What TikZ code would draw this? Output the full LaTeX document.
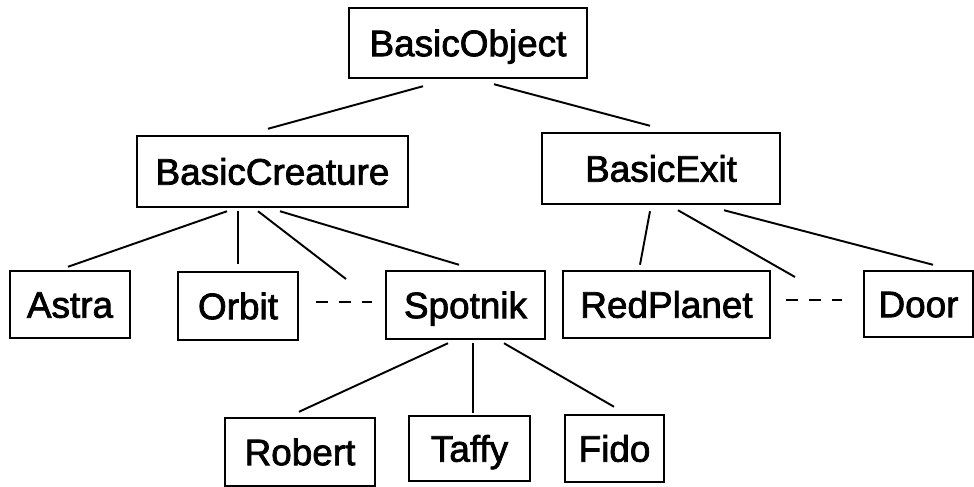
\documentclass[tikz,border=0pt]{standalone}
\usepackage{fontspec}
\setmainfont{Liberation Sans}
\newfontfamily\heavysans{Liberation Sans}[FakeBold=2]
\usetikzlibrary{calc}

\begin{document}
\begin{tikzpicture}[
    x=0.2mm, y=-0.2mm,
    every node/.style={font=\heavysans\fontsize{21}{25}\selectfont},
]

\tikzset{
    cls/.style 2 args={rectangle, draw=black, line width=1.4pt, inner sep=0pt,
                       text height=15pt, text depth=0pt,
                       minimum width=#1*0.2mm, minimum height=#2*0.2mm},
    link/.style={black, line width=1.1pt},
    more/.style={black, line width=1.1pt, dash pattern=on 6.8pt off 6.2pt},
}

% frame of the picture, in pixels of the reference
\useasboundingbox (0,0) rectangle (974,487);

% ---------------------------------------------------------------- classes
\node[cls={238}{70}] (obj)       at (468, 43)    {BasicObject};
\node[cls={271}{71}] (creature)  at (272.5,171.5) {BasicCreature};
\node[cls={238}{71}] (exit)      at (661, 168.5)  {BasicExit};

\node[cls={120}{67}] (astra)     at (70, 304.5)   {Astra};
\node[cls={120}{68}] (orbit)     at (238, 306)    {Orbit};
\node[cls={159}{68}] (spotnik)   at (465.5,305)   {Spotnik};
\node[cls={207}{67}] (redplanet) at (666.5,304.5) {RedPlanet};
\node[cls={109}{66}] (door)      at (918.5,304)   {Door};

\node[cls={150}{68}] (robert)    at (300, 452)    {Robert};
\node[cls={121}{65}] (taffy)     at (469.5,448.5) {Taffy};
\node[cls={99}{67}]  (fido)      at (614.5,448.5) {Fido};

% free ends of the links to the classes left out
\coordinate (creaturemore) at (346, 279);
\coordinate (exitmore)     at (795, 277);

% ---------------------------------------------------------------- links
\draw[link] ($(obj.south)+(-45,7)$) -- ($(creature.north)+(-4.5,-6)$);
\draw[link] ($(obj.south)+(26,5)$)  -- ($(exit.north)+(-11,-6)$);

\draw[link] ($(creature.south)+(-45.5,3)$) -- ($(astra.north)+(-2,-3)$);
\draw[link] ($(creature.south)+(-34.5,3)$) -- ($(orbit.north)+(0,-7)$);
\draw[link] ($(creature.south)+(-14.5,3)$) -- (creaturemore);
\draw[link] ($(creature.south)+(7.5,3)$)   -- ($(spotnik.north)+(-6.5,-5)$);

\draw[link] ($(exit.south)+(-11,6)$) -- ($(redplanet.north)+(-26.5,-5)$);
\draw[link] ($(exit.south)+(17,5)$)  -- (exitmore);
\draw[link] ($(exit.south)+(63,5)$)  -- ($(door.north)+(14.5,-5)$);

\draw[link] ($(spotnik.south)+(-17.5,3)$) -- ($(robert.north)+(-1,-5)$);
\draw[link] ($(spotnik.south)+(7.5,3)$)   -- ($(taffy.north)+(3.5,-2)$);
\draw[link] ($(spotnik.south)+(38.5,3)$)  -- ($(fido.north)+(-0.5,-7)$);

% ---------------------------------------------------------------- and so on
\draw[more] ($(orbit.east)+(17,-4)$)     -- ($(spotnik.west)+(-13,-3)$);
\draw[more] ($(redplanet.east)+(15,-4.5)$) -- ($(door.west)+(-21,-4)$);

\end{tikzpicture}
\end{document}
